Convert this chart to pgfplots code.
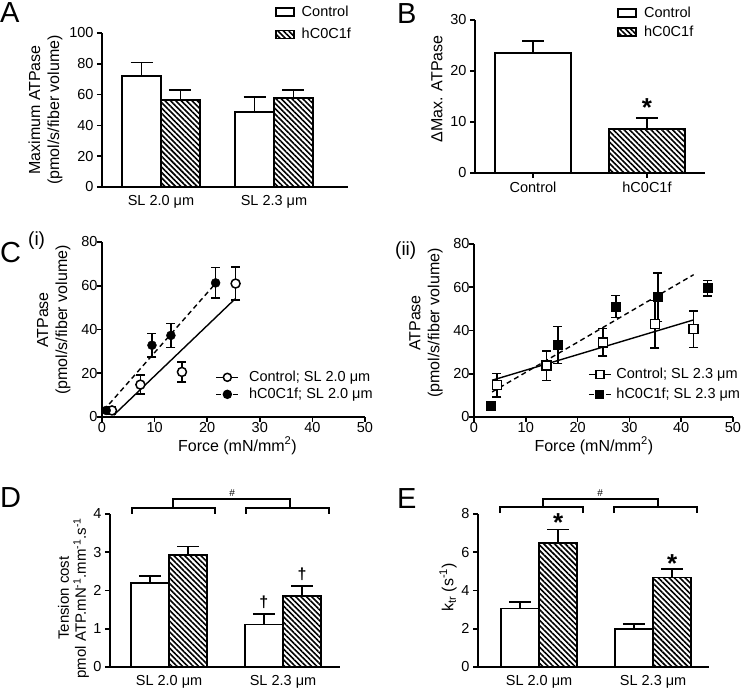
\documentclass[border=0pt]{standalone}
\usepackage{fontspec}
\setmainfont{Liberation Sans}
\usepackage{pgfplots}
\pgfplotsset{compat=1.18}
\usepackage{pgfplotstable}
\usetikzlibrary{patterns.meta}

\newcommand\fs{\fontsize{14.5}{17}\selectfont}
\newcommand\lfs{\fontsize{16}{19}\selectfont}

\pgfplotsset{
  panel/.style={scale only axis, anchor=south west, axis lines=left,
    axis line style={-, line width=1.8pt},
    tick style={black, line width=1.6pt}, tick align=outside, major tick length=5pt,
    tick label style={font=\fs}, label style={font=\lfs, align=center},
    /pgf/number format/assume math mode=true, clip=false, ymin=0},
  scatterpanel/.style={panel, xmin=0, xmax=50, ymax=80,
    xtick={0,10,...,50}, ytick={0,20,...,80},
    xticklabel style={yshift=3pt}, yticklabel style={xshift=4pt},
    xlabel={Force (mN/mm\textsuperscript{2})},
    ylabel={ATPase\\(pmol/s/fiber volume)}},
  boxlegend/.style={
    legend image code/.code={\draw[##1, line width=1.8pt] (0pt,-4pt) rectangle (18pt,4pt);},
    legend style={draw=none, fill=none, anchor=north west, font=\fs, row sep=6pt,
      /tikz/every odd column/.append style={column sep=5pt}},
    legend cell align=left},
  linelegend/.style={
    legend image code/.code={\draw[mark repeat=2, mark phase=2, ##1] plot coordinates {(0pt,0pt) (11pt,0pt) (22pt,0pt)};},
    legend style={draw=none, fill=none, anchor=north west, font=\fs, row sep=2pt},
    legend cell align=left},
  hatch/.style={pattern={Lines[angle=-45, distance=3.8pt, line width=1.6pt]}},
  barerr/.style={error bars/y dir=plus, error bars/y explicit,
    error bars/error bar style={line width=1.6pt},
    error bars/error mark options={rotate=90, line width=1.6pt, mark size=11pt}},
  ctl/.style={ybar, bar shift=0pt, draw=black, fill=white, line width=1.8pt, forget plot, barerr},
  hat/.style={ybar, bar shift=0pt, draw=black, hatch, line width=1.8pt, forget plot, barerr},
  pterr/.style={only marks, forget plot, mark size=4.5pt,
    error bars/y dir=both, error bars/y explicit,
    error bars/error bar style={line width=1.6pt},
    error bars/error mark options={rotate=90, line width=1.6pt, mark size=4.5pt}},
  fitline/.style={line width=1.4pt, black, forget plot},
  dashfit/.style={line width=1.4pt, black, dash pattern=on 5pt off 3.5pt, forget plot},
}

% panel A: maximum ATPase
\pgfplotstableread{
x y e
0.828 72.2 8.7
1.828 48.7 9.6
}\Actl
\pgfplotstableread{
x y e
1.172 56.5 6.5
2.172 58.0 4.8
}\Ahat
% panel C(i): SL 2.0
\pgfplotstableread{
x y e
1.9 3.0 1.5
7.3 14.8 4.4
15.2 20.6 4.5
25.4 61.0 7.6
}\Cictl
\pgfplotstableread{
x y e
0.8 3.0 1.0
9.5 32.8 5.4
13.1 37.3 5.5
21.6 61.3 7.0
}\Cihat
% panel C(ii): SL 2.3
\pgfplotstableread{
x y e
4.4 14.7 5.5
14.0 23.7 6.8
24.9 34.5 6.4
34.9 42.9 10.9
42.4 40.6 8.5
}\Ciictl
\pgfplotstableread{
x y e
3.3 5.1 0
16.2 33.3 8.6
27.4 51.1 5.1
35.5 55.4 11.2
45.1 59.6 3.6
}\Ciihat
% panel D: tension cost
\pgfplotstableread{
x y e
0.832 2.19 0.19
1.832 1.11 0.28
}\Dctl
\pgfplotstableread{
x y e
1.168 2.93 0.22
2.168 1.86 0.26
}\Dhat
% panel E: ktr
\pgfplotstableread{
x y e
0.832 3.06 0.35
1.832 1.98 0.28
}\Ectl
\pgfplotstableread{
x y e
1.168 6.50 0.70
2.168 4.68 0.43
}\Ehat

\begin{document}
\begin{tikzpicture}
\path[use as bounding box] (0,0) rectangle (745pt,688pt);

% ---------- A ----------
\begin{axis}[panel, boxlegend, at={(102pt,501pt)}, width=246pt, height=154pt,
  xmin=0.478, xmax=2.655, ymax=100, ytick={0,20,40,60,80,100},
  xtick={1,2}, xticklabels={SL 2.0 μm, SL 2.3 μm}, xtick style={draw=none},
  ylabel={Maximum ATPase\\(pmol/s/fiber volume)},
  ylabel style={at={(axis description cs:-0.23,0.5)}, anchor=center},
  legend style={at={(axis description cs:0.69,1.2)}}]
\addlegendimage{fill=white}\addlegendentry{Control}
\addlegendimage{hatch}\addlegendentry{hC0C1f}
\addplot[ctl, bar width=0.344] table[x=x, y=y, y error=e] {\Actl};
\addplot[hat, bar width=0.344] table[x=x, y=y, y error=e] {\Ahat};
\end{axis}

% ---------- B ----------
\begin{axis}[panel, boxlegend, at={(475pt,515pt)}, width=230pt, height=153pt,
  xmin=-0.509, xmax=1.509, ymax=30, ytick={0,10,20,30},
  xtick={0,1}, xticklabels={Control, hC0C1f},
  ylabel={ΔMax. ATPase},
  ylabel style={at={(axis description cs:-0.165,0.55)}, anchor=center},
  legend style={at={(axis description cs:0.605,1.11)}, row sep=3pt}]
\addlegendimage{fill=white}\addlegendentry{Control}
\addlegendimage{hatch}\addlegendentry{hC0C1f}
\addplot[ctl, bar width=0.667] coordinates {(0,23.6) +- (0,2.3)};
\addplot[hat, bar width=0.667] coordinates {(1,8.6) +- (0,2.2)};
\node[anchor=north, inner sep=0pt, font=\fontsize{26}{26}\selectfont\bfseries] at (axis cs:1,14.7) {*};
\end{axis}

% ---------- C(i) ----------
\begin{axis}[scatterpanel, linelegend, at={(102pt,271pt)}, width=263pt, height=175pt,
  xlabel style={at={(axis description cs:0.515,-0.095)}, anchor=north},
  ylabel style={at={(axis description cs:-0.183,0.554)}, anchor=center},
  legend style={at={(axis description cs:0.42,0.285)}, row sep=1pt,
    /tikz/every odd column/.append style={column sep=8pt}}]
\addlegendimage{line width=1.4pt, mark=*, mark size=4pt, mark options={solid, fill=white, line width=1.5pt}}
\addlegendentry{Control; SL 2.0 μm}
\addlegendimage{line width=1.4pt, dash pattern=on 5pt off 3.5pt, mark=*, mark size=4pt, mark options={solid, fill=black}}
\addlegendentry{hC0C1f; SL 2.0 μm}
\addplot[fitline] coordinates {(2.2,0.8) (25.3,54)};
\addplot[dashfit] coordinates {(0.3,3) (21.2,60)};
\addplot[pterr, mark=*, mark options={fill=white, draw=black, line width=1.5pt}, black] table[x=x, y=y, y error=e] {\Cictl};
\addplot[pterr, mark=*, mark options={fill=black}, black] table[x=x, y=y, y error=e] {\Cihat};
\end{axis}

% ---------- C(ii) ----------
\begin{axis}[scatterpanel, linelegend, at={(474pt,271pt)}, width=259pt, height=173pt,
  xlabel style={at={(axis description cs:0.463,-0.095)}, anchor=north},
  ylabel style={at={(axis description cs:-0.185,0.543)}, anchor=center},
  legend style={at={(axis description cs:0.428,0.305)}, row sep=4pt,
    /tikz/every odd column/.append style={column sep=3pt}}]
\addlegendimage{line width=1.4pt, mark=square*, mark size=4pt, mark options={solid, fill=white, line width=1.5pt}}
\addlegendentry{Control; SL 2.3 μm}
\addlegendimage{line width=1.4pt, dash pattern=on 5pt off 3.5pt, mark=square*, mark size=4pt, mark options={solid, fill=black}}
\addlegendentry{hC0C1f; SL 2.3 μm}
\addplot[fitline] coordinates {(3.5,17) (42.4,44.9)};
\addplot[dashfit] coordinates {(3.5,11.6) (42.4,65.8)};
\addplot[pterr, mark=square*, mark options={fill=white, draw=black, line width=1.5pt}, black] table[x=x, y=y, y error=e] {\Ciictl};
\addplot[pterr, mark=square*, mark options={fill=black}, black] table[x=x, y=y, y error=e] {\Ciihat};
\end{axis}

% ---------- D ----------
\begin{axis}[panel, at={(110pt,21pt)}, width=230pt, height=153pt,
  xmin=0.482, xmax=2.5, ymax=4, ytick={0,1,2,3,4},
  xtick={1,2}, xticklabels={SL 2.0 μm, SL 2.3 μm}, xtick style={draw=none},
  ylabel={Tension cost\\pmol ATP.mN\textsuperscript{-1}.mm\textsuperscript{-1}.s\textsuperscript{-1}},
  ylabel style={at={(axis description cs:-0.159,0.45)}, anchor=center, font=\fontsize{15}{17}\selectfont}]
\addplot[ctl, bar width=0.335] table[x=x, y=y, y error=e] {\Dctl};
\addplot[hat, bar width=0.335] table[x=x, y=y, y error=e] {\Dhat};
\draw[line width=1.3pt] (axis cs:0.675,4.0) |- (axis cs:1.404,4.16) -- (axis cs:1.404,4.0);
\draw[line width=1.3pt] (axis cs:1.675,4.0) |- (axis cs:2.404,4.16) -- (axis cs:2.404,4.0);
\draw[line width=1.3pt] (axis cs:1.035,4.16) |- (axis cs:2.06,4.39) -- (axis cs:2.06,4.16);
\node[font=\fontsize{10}{10}\selectfont] at (axis cs:1.553,4.55) {\#};
\node[anchor=north, inner sep=0pt, font=\fontsize{16}{16}\selectfont\bfseries] at (axis cs:1.832,1.86) {†};
\node[anchor=north, inner sep=0pt, font=\fontsize{16}{16}\selectfont\bfseries] at (axis cs:2.168,2.59) {†};
\end{axis}

% ---------- E ----------
\begin{axis}[panel, at={(478pt,21pt)}, width=231pt, height=153pt,
  xmin=0.465, xmax=2.49, ymax=8, ytick={0,2,4,6,8},
  xtick={1,2}, xticklabels={SL 2.0 μm, SL 2.3 μm}, xtick style={draw=none},
  ylabel={k\textsubscript{tr} (s\textsuperscript{-1})},
  ylabel style={at={(axis description cs:-0.13,0.52)}, anchor=center}]
\addplot[ctl, bar width=0.335] table[x=x, y=y, y error=e] {\Ectl};
\addplot[hat, bar width=0.335] table[x=x, y=y, y error=e] {\Ehat};
\draw[line width=1.3pt] (axis cs:0.658,8.05) |- (axis cs:1.386,8.37) -- (axis cs:1.386,8.05);
\draw[line width=1.3pt] (axis cs:1.658,8.05) |- (axis cs:2.386,8.37) -- (axis cs:2.386,8.05);
\draw[line width=1.3pt] (axis cs:1.035,8.37) |- (axis cs:2.044,8.78) -- (axis cs:2.044,8.37);
\node[font=\fontsize{10}{10}\selectfont] at (axis cs:1.535,9.1) {\#};
\node[anchor=north, inner sep=0pt, font=\fontsize{26}{26}\selectfont\bfseries] at (axis cs:1.168,8.05) {*};
\node[anchor=north, inner sep=0pt, font=\fontsize{26}{26}\selectfont\bfseries] at (axis cs:2.168,5.9) {*};
\end{axis}

% panel letters
\node[anchor=north west, inner sep=0pt, font=\fontsize{29}{30}\selectfont] at (0pt,686pt) {A};
\node[anchor=north west, inner sep=0pt, font=\fontsize{29}{30}\selectfont] at (397pt,685pt) {B};
\node[anchor=north west, inner sep=0pt, font=\fontsize{29}{30}\selectfont] at (0pt,446pt) {C};
\node[anchor=north west, inner sep=0pt, font=\fontsize{19}{20}\selectfont] at (28pt,456pt) {(i)};
\node[anchor=north west, inner sep=0pt, font=\fontsize{19}{20}\selectfont] at (395pt,446pt) {(ii)};
\node[anchor=north west, inner sep=0pt, font=\fontsize{29}{30}\selectfont] at (0pt,201pt) {D};
\node[anchor=north west, inner sep=0pt, font=\fontsize{29}{30}\selectfont] at (397pt,200pt) {E};
\end{tikzpicture}
\end{document}
